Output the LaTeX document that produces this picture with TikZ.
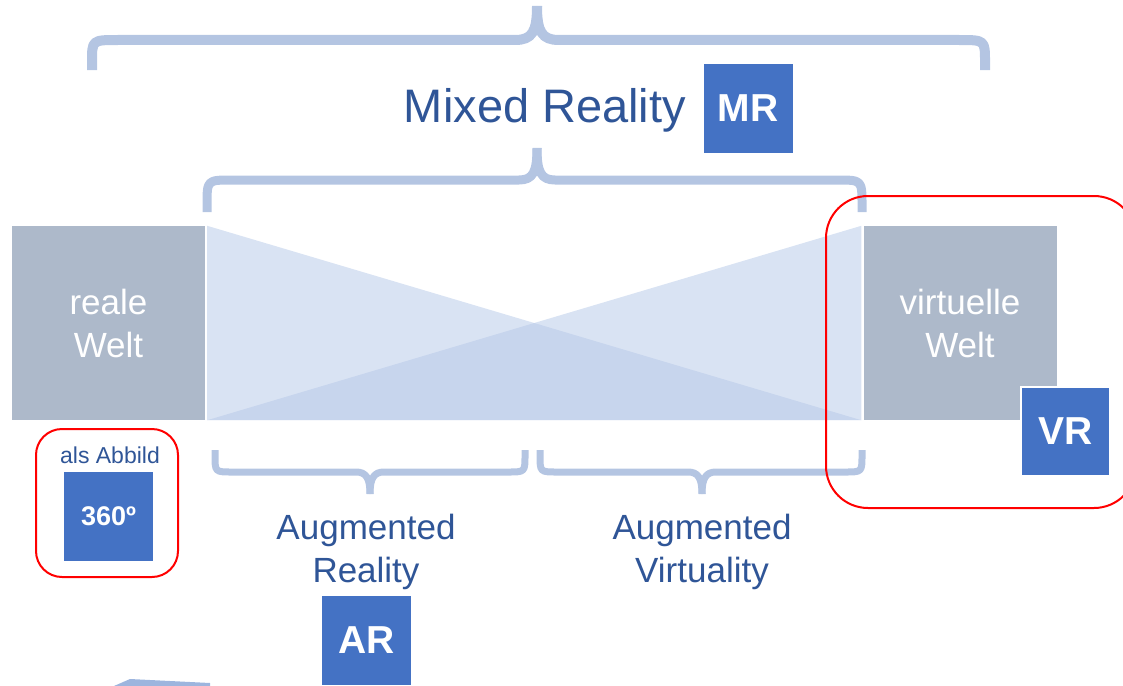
\documentclass[tikz,border=0pt]{standalone}
\usepackage{fontspec}
\setmainfont{Liberation Sans}
\usetikzlibrary{calc}
\definecolor{boxblue}{HTML}{4472C4}
\definecolor{txtblue}{HTML}{2F5597}
\definecolor{grayw}{HTML}{ADB9CA}
\definecolor{bracec}{HTML}{B4C5E2}
\definecolor{wedgec}{HTML}{B4C7E7}
\definecolor{fragc}{HTML}{9DB5DE}
\begin{document}
\begin{tikzpicture}[x=1pt,y=-1pt,
  world/.style={rectangle, fill=grayw, text=white, minimum width=193pt, minimum height=194pt, inner sep=0pt, align=center, font=\fontsize{35}{43}\selectfont},
  tagbox/.style={rectangle, fill=boxblue, text=white, minimum size=89pt, inner sep=0pt, font=\bfseries\fontsize{39}{44}\selectfont},
  lbl/.style={text=txtblue, inner sep=0pt, align=center},
  bracepath/.style={draw=bracec, line cap=butt, line join=round},
  redframe/.style={draw=red, line width=2pt},
  wedge/.style={fill=wedgec, opacity=0.5}
]
\useasboundingbox (0,0) rectangle (1123,685);

% world boxes
\node[world] (real) at (108.5,323) {reale\\Welt};
\node[world] (virt) at (960,323) {virtuelle\\Welt};

% wedges
\fill[wedge] ($(real.north east)+(2,0)$) -- ($(real.south east)+(2,0)$) -- ($(virt.south west)+(-2,0)$) -- cycle;
\fill[wedge] ($(virt.north west)+(-2,0)$) -- ($(virt.south west)+(-2,0)$) -- ($(real.south east)+(2,0)$) -- cycle;

% braces
\draw[bracepath, line width=10pt] (92,70) -- (92,62) .. controls (92,40) .. (118,40) -- (515,40) .. controls (532,40) and (537,32) .. (537,6);
\draw[bracepath, line width=10pt] (985,70) -- (985,62) .. controls (985,40) .. (959,40) -- (559,40) .. controls (542,40) and (537,32) .. (537,6);

\draw[bracepath, line width=9pt] (207,212) -- (207,205) .. controls (207,180) .. (232,180) -- (519,180) .. controls (533,180) and (537,172) .. (537,148);
\draw[bracepath, line width=9pt] (862,212) -- (862,205) .. controls (862,180) .. (837,180) -- (555,180) .. controls (541,180) and (537,172) .. (537,148);

\draw[bracepath, line width=7pt] (215,450) -- (215,455) .. controls (215,472) .. (232,472) -- (356,472) .. controls (366,472) and (370,478) .. (370,494);
\draw[bracepath, line width=7pt] (525,450) -- (525,455) .. controls (525,472) .. (508,472) -- (384,472) .. controls (374,472) and (370,478) .. (370,494);

\draw[bracepath, line width=7pt] (540,450) -- (540,455) .. controls (540,472) .. (557,472) -- (688,472) .. controls (698,472) and (702,478) .. (702,494);
\draw[bracepath, line width=7pt] (862,450) -- (862,455) .. controls (862,472) .. (845,472) -- (716,472) .. controls (706,472) and (702,478) .. (702,494);

% labels
\node[lbl, anchor=base, font=\fontsize{47}{52}\selectfont] (mixed) at (545,122) {Mixed Reality};
\node[lbl, font=\fontsize{35}{43}\selectfont] (ar) at (366,552) {Augmented\\Reality};
\node[lbl, font=\fontsize{35}{43}\selectfont] (av) at (702,552) {Augmented\\Virtuality};
\node[lbl, anchor=base, font=\fontsize{23}{26}\selectfont] (abbild) at (110,463) {als Abbild};

% tags
\node[tagbox] (mrtag) at (748,108) {MR};
\node[tagbox, draw=white, line width=2pt] (vrtag) at (1065.5,431.5) {VR};
\node[tagbox] (artag) at (366.5,640.5) {AR};
\node[tagbox, font=\bfseries\fontsize{27}{30}\selectfont] (t360) at (108.5,516) {360º};

% red frames
\draw[redframe, rounded corners=42pt] (826,196) rectangle (1136,508);
\draw[redframe, rounded corners=26pt] (36,429) rectangle (178,577);

% cut-off fragment at bottom left
\fill[fragc] (114,686) -- (130,679) -- (150,680) -- (210,683) -- (210,686) -- cycle;
\end{tikzpicture}
\end{document}
